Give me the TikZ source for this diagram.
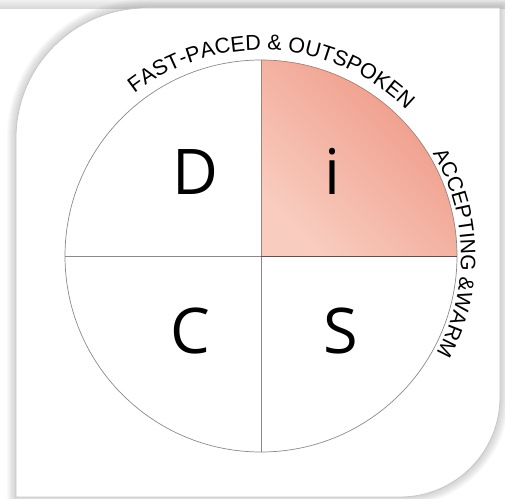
\documentclass[tikz,border=0pt]{standalone}
\usepackage{fontspec}
\newfontfamily\labelfont{Liberation Sans}
\newfontfamily\letterfont{Open Sans}
\usetikzlibrary{decorations.text}
\definecolor{rimgray}{HTML}{8A8A8A}
\definecolor{darkrim}{HTML}{6A4A44}
\definecolor{warmlight}{HTML}{F8CDC0}
\definecolor{warmdark}{HTML}{EF9784}
\definecolor{shadowgray}{HTML}{9A9A9A}
\definecolor{bandtop}{HTML}{F0F0F0}
\definecolor{bandbot}{HTML}{D6D6D6}
\tikzset{
  rim/.style={draw=rimgray, line width=0.7pt},
  bigletter/.style={anchor=base, inner sep=0pt, font=\letterfont\fontsize{63}{63}\selectfont},
  arclabel/.style={decorate, decoration={text along path, text align=center,
     text={#1}}},
  cardpath/.style={line join=round}
}
\begin{document}
\begin{tikzpicture}[x=1pt,y=1pt]
\useasboundingbox (0,0) rectangle (505,498);
\fill[white] (0,0) rectangle (505,498);
\shade[top color=bandtop, bottom color=bandbot] (0,489) rectangle (505,498);
% shadow
\foreach \w in {2,4,6,8,10,12,14,16,18}{
  \draw[shadowgray, line width=\w pt, opacity=0.05]
    (16,1) -- (16,360) arc[start angle=180,end angle=90,radius=130]
    -- (500,490) -- (500,101) arc[start angle=0,end angle=-90,radius=100] -- cycle;
}
% card
\filldraw[fill=white, draw=black!22, line width=0.8pt, cardpath]
    (16,1) -- (16,360) arc[start angle=180,end angle=90,radius=130]
    -- (500,490) -- (500,101) arc[start angle=0,end angle=-90,radius=100] -- cycle;
% circle
\coordinate (o) at (261,242);
\coordinate (top) at (261,438);
\coordinate (bot) at (261,46);
\coordinate (lft) at (65,242);
\coordinate (rgt) at (457,242);
\shade[top color=warmdark, bottom color=warmlight, shading angle=-45]
  (o) -- (rgt) arc[start angle=0,end angle=90,radius=196] -- cycle;
\draw[rim] (o) circle[radius=196];
\draw[rim] (top) -- (bot);
\draw[rim] (lft) -- (o);
\draw[draw=darkrim, line width=0.8pt] (o) -- (rgt);
% letters
\node[bigletter] (d) at (195,303) {D};
\node[bigletter] (i) at (332,303) {i};
\node[bigletter] (c) at (190,145) {C};
\node[bigletter] (s) at (341,145) {S};
% arc labels
\path[arclabel={|\labelfont\fontsize{21.5}{21.5}\selectfont|FAST-PACED {\&} OUTSPOKEN}]
  (o) ++(150:206) arc[start angle=150,end angle=23,radius=206];
\path[arclabel={|\labelfont\fontsize{21}{21}\selectfont|ACCEPTING {\&}WARM}]
  (o) ++(45:200) arc[start angle=45,end angle=-43,radius=200];
\end{tikzpicture}
\end{document}
